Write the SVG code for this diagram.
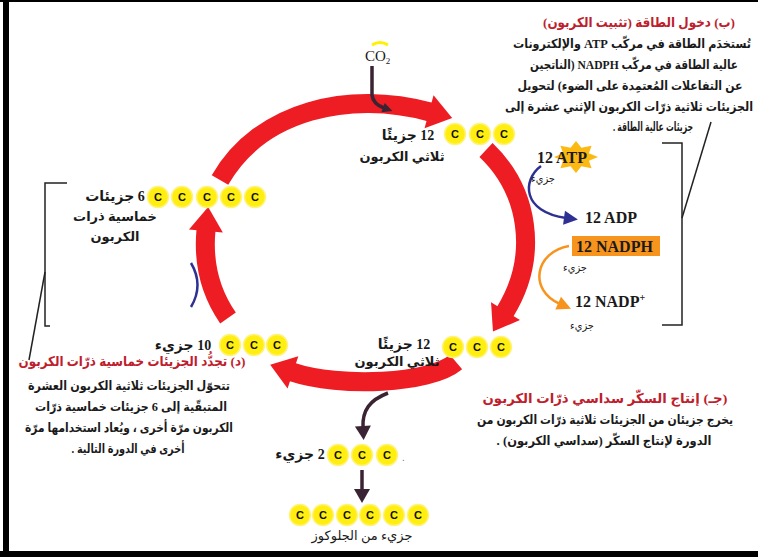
<svg xmlns="http://www.w3.org/2000/svg" width="758" height="557" viewBox="0 0 758 557">
<style>
.ar{font-family:"Liberation Serif","DejaVu Sans Condensed","DejaVu Sans",serif;font-weight:bold;direction:rtl;text-anchor:middle;fill:#1a1a1a;font-size:12.5px}
.red{fill:#BE1E2D;font-size:13.5px}
.sm{font-size:11px;font-weight:normal}
.lb{font-family:"Liberation Serif","DejaVu Sans",serif;font-size:14px}
.lb2{font-family:"Liberation Serif","DejaVu Sans",serif;font-size:13px}
.en{font-family:"Liberation Serif",serif;font-weight:bold;font-size:16px;fill:#1a1a1a}
.cc circle{fill:#FFEE10;stroke:#FFF37A;stroke-width:1.5}
.cl{font-family:"Liberation Sans",sans-serif;font-weight:bold;font-size:11px;text-anchor:middle;fill:#111}
.arc{fill:none;stroke:#EE1D23;stroke-width:19}
.brk{fill:none;stroke:#222;stroke-width:1.5}
</style>
<defs>
<marker id="rh" markerUnits="userSpaceOnUse" markerWidth="30" markerHeight="40" refX="1" refY="17" orient="auto" overflow="visible"><path d="M0,0 L24,17 L0,34 z" fill="#EE1D23"/></marker>
<marker id="bh" markerUnits="userSpaceOnUse" markerWidth="16" markerHeight="16" refX="2" refY="7" orient="auto" overflow="visible"><path d="M0,0 L14,7 L0,14 z" fill="#2E3192"/></marker>
<marker id="oh" markerUnits="userSpaceOnUse" markerWidth="16" markerHeight="16" refX="2" refY="7" orient="auto" overflow="visible"><path d="M0,0 L14,7 L0,14 z" fill="#F7941D"/></marker>
<marker id="dh" markerUnits="userSpaceOnUse" markerWidth="18" markerHeight="18" refX="2" refY="8" orient="auto" overflow="visible"><path d="M0,0 L14,8 L0,16 z" fill="#3A2333"/></marker>
<marker id="dhs" markerUnits="userSpaceOnUse" markerWidth="12" markerHeight="12" refX="1" refY="5" orient="auto" overflow="visible"><path d="M0,0 L10,5 L0,10 z" fill="#3A2333"/></marker>
</defs>
<rect x="0" y="0" width="758" height="557" fill="#fff"/>
<g id="frame">
<rect x="3" y="0" width="6" height="557" fill="#000"/>
<rect x="0" y="0" width="758" height="2" fill="#000"/>
<rect x="0" y="551" width="758" height="6" fill="#000"/>
</g>
<g id="connectors">
<path d="M191,263 Q204,285 191,307" fill="none" stroke="#2E3192" stroke-width="2.5"/>
<path class="arc" d="M220,180 C260,110 350,90 430,112" marker-end="url(#rh)"/>
<path class="arc" d="M486,150 C528,190 540,255 505,312" marker-end="url(#rh)"/>
<path class="arc" d="M456,362 C430,384 340,388 292,372" marker-end="url(#rh)"/>
<path class="arc" d="M228,318 C210,292 203,262 206,230" marker-end="url(#rh)"/>
<path d="M372,45 Q380,40 388,45" fill="none" stroke="#FFF200" stroke-width="3"/>
<path d="M372,66 L372,95 Q373,104 384,108" fill="none" stroke="#3A2333" stroke-width="3.5" marker-end="url(#dhs)"/>
<path d="M541,166 C522,180 522,212 566,218" fill="none" stroke="#2E3192" stroke-width="2.5" marker-end="url(#bh)"/>
<path d="M569,246 C535,252 528,290 560,304" fill="none" stroke="#F7941D" stroke-width="2.5" marker-end="url(#oh)"/>
<path d="M388,393 C370,400 362,410 363,428" fill="none" stroke="#3A2333" stroke-width="3.5" marker-end="url(#dh)"/>
<path d="M362,470 L362,491" fill="none" stroke="#3A2333" stroke-width="3.5" marker-end="url(#dh)"/>
</g>
<g id="co2">
<text class="en" x="365" y="61" style="font-weight:normal;font-size:15px">CO<tspan font-size="9" dy="3">2</tspan></text>
</g>
<g id="mol-top" class="cc">
<circle cx="455" cy="134" r="10.5"/><circle cx="480" cy="134" r="10.5"/><circle cx="504" cy="134" r="10.5"/>
<text class="cl" x="455" y="138">C</text><text class="cl" x="480" y="138">C</text><text class="cl" x="504" y="138">C</text>
<text class="ar lb" x="408" y="140">12 جزيئًا</text>
<text class="ar lb2" x="402" y="161">ثلاثي الكربون</text>
</g>
<g id="mol-right" class="cc">
<circle cx="453" cy="347" r="10.5"/><circle cx="477" cy="347" r="10.5"/><circle cx="501" cy="347" r="10.5"/>
<text class="cl" x="453" y="351">C</text><text class="cl" x="477" y="351">C</text><text class="cl" x="501" y="351">C</text>
<text class="ar lb" x="404" y="349">12 جزيئًا</text>
<text class="ar lb2" x="397" y="366">ثلاثي الكربون</text>
</g>
<g id="mol-left10" class="cc">
<circle cx="230" cy="345" r="10.5"/><circle cx="254" cy="345" r="10.5"/><circle cx="277" cy="345" r="10.5"/>
<text class="cl" x="230" y="349">C</text><text class="cl" x="254" y="349">C</text><text class="cl" x="277" y="349">C</text>
<text class="ar lb" x="183" y="350">10 جزيء</text>
</g>
<g id="mol-left6" class="cc">
<circle cx="158" cy="197" r="10.5"/><circle cx="182" cy="197" r="10.5"/><circle cx="207" cy="197" r="10.5"/><circle cx="231" cy="197" r="10.5"/><circle cx="255" cy="197" r="10.5"/>
<text class="cl" x="158" y="201">C</text><text class="cl" x="182" y="201">C</text><text class="cl" x="207" y="201">C</text><text class="cl" x="231" y="201">C</text><text class="cl" x="255" y="201">C</text>
<text class="ar lb" x="115" y="201">6 جزيئات</text>
<text class="ar lb2" x="115" y="221">خماسية ذرات</text>
<text class="ar lb2" x="115" y="241">الكربون</text>
</g>
<g id="mol-2" class="cc">
<circle cx="338" cy="455" r="10.5"/><circle cx="362" cy="455" r="10.5"/><circle cx="387" cy="455" r="10.5"/>
<text class="cl" x="338" y="459">C</text><text class="cl" x="362" y="459">C</text><text class="cl" x="387" y="459">C</text>
<text class="ar lb" x="300" y="459">2 جزيء</text>
<text x="402" y="461" style="font-family:&quot;Liberation Sans&quot;,sans-serif;font-size:10px;fill:#777">.</text>
</g>
<g id="mol-glucose" class="cc">
<circle cx="300" cy="515" r="10.5"/><circle cx="323" cy="515" r="10.5"/><circle cx="347" cy="515" r="10.5"/><circle cx="370" cy="515" r="10.5"/><circle cx="394" cy="515" r="10.5"/><circle cx="418" cy="515" r="10.5"/>
<text class="cl" x="300" y="519">C</text><text class="cl" x="323" y="519">C</text><text class="cl" x="347" y="519">C</text><text class="cl" x="370" y="519">C</text><text class="cl" x="394" y="519">C</text><text class="cl" x="418" y="519">C</text>
<text class="ar lb2" x="362" y="540" style="font-weight:normal">جزيء من الجلوكوز</text>
</g>
<g id="atp">
<polygon points="598,157 588.9,160.8 591.6,168.3 581.4,166.2 576,173 570.6,166.2 560.4,168.3 563.1,160.8 554,157 563.1,153.2 560.4,145.7 570.6,147.8 576,141 581.4,147.8 591.6,145.7 588.9,153.2" fill="#FDB913"/>
<text class="en" x="537" y="163">12 ATP</text>
<text class="ar sm" x="543" y="182">جزيء</text>
</g>
<g id="adp"><text class="en" x="585" y="223">12 ADP</text></g>
<g id="nadph">
<rect x="572" y="236" width="88" height="20" fill="#F7941D"/>
<text class="en" x="576" y="252">12 NADPH</text>
<text class="ar sm" x="575" y="271">جزيء</text>
</g>
<g id="nadp">
<text class="en" x="575" y="307">12 NADP<tspan font-size="10" dy="-6">+</tspan></text>
<text class="ar sm" x="582" y="329">جزيء</text>
</g>
<g id="brackets">
<polyline class="brk" points="662,143 682,143 682,325 662,325"/>
<line class="brk" x1="682" y1="218" x2="711" y2="122"/>
<polyline class="brk" points="67,183 45,183 45,326 50,326"/>
<line class="brk" x1="45" y1="272" x2="29" y2="360"/>
</g>
<g id="text-b">
<text class="ar red" x="639" y="27" textLength="192" lengthAdjust="spacingAndGlyphs">(ب) دخول الطاقة (تثبيت الكربون)</text>
<text class="ar" x="632" y="48" textLength="238" lengthAdjust="spacingAndGlyphs">تُستخدَم الطاقة في مركّب ATP والإلكترونات</text>
<text class="ar" x="634" y="69" textLength="208" lengthAdjust="spacingAndGlyphs">عالية الطاقة في مركّب NADPH (الناتجين</text>
<text class="ar" x="630" y="90" textLength="225" lengthAdjust="spacingAndGlyphs">عن التفاعلات المُعتمِدة على الضوء) لتحويل</text>
<text class="ar" x="629" y="111" textLength="248" lengthAdjust="spacingAndGlyphs">الجزيئات ثلاثية ذرّات الكربون الإثني عشرة إلى</text>
<text class="ar" x="653" y="131" textLength="80" lengthAdjust="spacingAndGlyphs">جزيئات عالية الطاقة .</text>
</g>
<g id="text-d">
<text class="ar red" x="132" y="366" textLength="227" lengthAdjust="spacingAndGlyphs">(د) تجدُّد الجزيئات خماسية ذرّات الكربون</text>
<text class="ar" x="129" y="390" textLength="202" lengthAdjust="spacingAndGlyphs">تتحوّل الجزيئات ثلاثية الكربون العشرة</text>
<text class="ar" x="131" y="411" textLength="192" lengthAdjust="spacingAndGlyphs">المتبقّية إلى 6 جزيئات خماسية ذرّات</text>
<text class="ar" x="129" y="432" textLength="208" lengthAdjust="spacingAndGlyphs">الكربون مرّة أخرى ، ويُعاد استخدامها مرّة</text>
<text class="ar" x="128" y="453" textLength="113" lengthAdjust="spacingAndGlyphs">أخرى في الدورة التالية .</text>
</g>
<g id="text-c">
<text class="ar red" x="605" y="403" textLength="245" lengthAdjust="spacingAndGlyphs">(جـ) إنتاج السكّر سداسي ذرّات الكربون</text>
<text class="ar" x="605" y="424" textLength="256" lengthAdjust="spacingAndGlyphs">يخرج جزيئان من الجزيئات ثلاثية ذرّات الكربون من</text>
<text class="ar" x="604" y="445" textLength="215" lengthAdjust="spacingAndGlyphs">الدورة لإنتاج السكّر (سداسي الكربون) .</text>
</g>
</svg>
